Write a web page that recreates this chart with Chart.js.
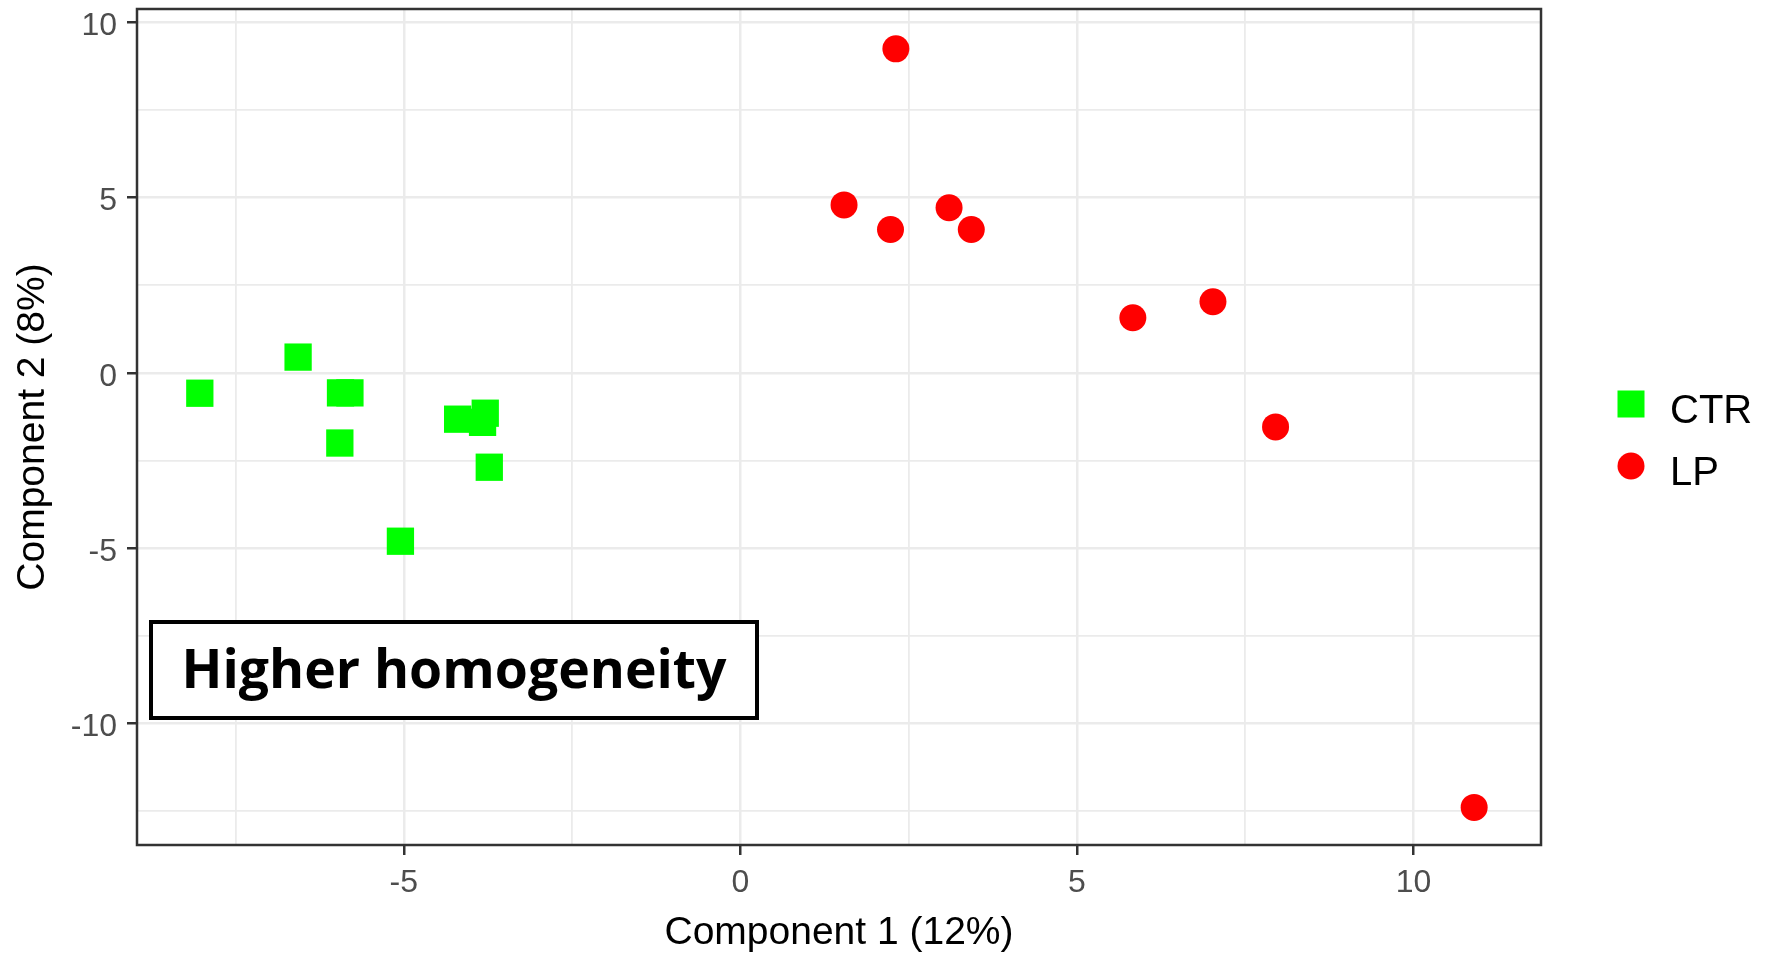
<!DOCTYPE html>
<html>
<head>
<meta charset="utf-8">
<script src="https://cdn.jsdelivr.net/npm/chart.js@4.4.1/dist/chart.umd.min.js"></script>
<style>
  html, body { margin: 0; padding: 0; background: #ffffff; }
  #wrap { width: 1769px; height: 953px; position: relative; }
</style>
</head>
<body>
<div id="wrap"><canvas id="c"></canvas></div>
<script>
// ---- data ----
const seriesNames = ['CTR', 'LP'];
const seriesColors = ['#00FF00', '#FF0000'];
const ctrX = [-8.03, -6.57, -5.94, -5.80, -5.95, -4.20, -3.79, -3.83, -3.73, -5.05];
const ctrY = [-0.58,  0.45, -0.57, -0.57, -2.00, -1.32, -1.15, -1.41, -2.69, -4.80];
const lpX  = [2.31, 1.54, 2.23, 3.10, 3.43, 5.83, 7.02, 7.95, 10.90];
const lpY  = [9.24, 4.79, 4.09, 4.71, 4.09, 1.57, 2.03, -1.54, -12.39];

const xMajorTicks = [-5, 0, 5, 10];
const xTickLabels = ['-5', '0', '5', '10'];
const xMinorTicks = [-7.5, -2.5, 2.5, 7.5];
const yMajorTicks = [-10, -5, 0, 5, 10];
const yTickLabels = ['-10', '-5', '0', '5', '10'];
const yMinorTicks = [-12.5, -7.5, -2.5, 2.5, 7.5];
const xRange = [-8.963, 11.893];
const yRange = [-13.462, 10.376];

const xTitle = 'Component 1 (12%)';
const yTitle = 'Component 2 (8%)';
const annotationText = 'Higher homogeneity';

// ---- build chart ----
const toPoints = (xs, ys) => xs.map((x, i) => ({ x: x, y: ys[i] }));

function setTicks(major, minor) {
  return function (scale) {
    scale.ticks = major.concat(minor).sort((a, b) => a - b).map(v => ({ value: v }));
  };
}
function labelFor(major, labels) {
  return function (value) {
    const i = major.indexOf(value);
    return i >= 0 ? labels[i] : '';
  };
}
// y labels sit slightly below their tick in the reference: an empty first line
// with a small line height nudges the label down a few pixels
function labelForShifted(major, labels) {
  return function (value) {
    const i = major.indexOf(value);
    return i >= 0 ? ['', labels[i]] : '';
  };
}
function gridWidth(major) {
  return ctx => (ctx.tick && major.indexOf(ctx.tick.value) >= 0) ? 2.5 : 1.8;
}
function tickCol(major) {
  return ctx => (ctx.tick && major.indexOf(ctx.tick.value) >= 0) ? '#333333' : 'rgba(0,0,0,0)';
}

const FONT = "'Liberation Sans', Arial, sans-serif";

const decor = {
  id: 'decor',
  afterDatasetsDraw(chart) {
    const { ctx, chartArea: a } = chart;
    ctx.save();
    // panel border
    ctx.strokeStyle = '#333333';
    ctx.lineWidth = 2.5;
    ctx.strokeRect(a.left, a.top, a.right - a.left, a.bottom - a.top);

    // annotation box
    const bx = a.left + 14, by = 622, bw = 606, bh = 96;
    ctx.fillStyle = '#ffffff';
    ctx.fillRect(bx, by, bw, bh);
    ctx.strokeStyle = '#000000';
    ctx.lineWidth = 4;
    ctx.strokeRect(bx, by, bw, bh);
    ctx.fillStyle = '#000000';
    ctx.font = "bold 53.5px 'Open Sans', sans-serif";
    ctx.textAlign = 'center';
    ctx.textBaseline = 'alphabetic';
    ctx.fillText(annotationText, bx + bw / 2, 688);
    ctx.restore();
  },
  afterDraw(chart) {
    const { ctx } = chart;
    ctx.save();
    const kx = 1631;
    const rows = [404, 466];
    chart.data.datasets.forEach((ds, i) => {
      const cy = rows[i];
      ctx.fillStyle = ds.backgroundColor;
      if (ds.pointStyle === 'rect') {
        ctx.fillRect(kx - 13.5, cy - 13.5, 27, 27);
      } else {
        ctx.beginPath();
        ctx.arc(kx, cy, 13.5, 0, Math.PI * 2);
        ctx.fill();
      }
      ctx.fillStyle = '#000000';
      ctx.font = '40px ' + FONT;
      ctx.textAlign = 'left';
      ctx.textBaseline = 'alphabetic';
      ctx.fillText(ds.label, 1670, cy + 19);
    });
    ctx.restore();
  }
};

new Chart(document.getElementById('c'), {
  type: 'scatter',
  data: {
    datasets: [
      {
        label: seriesNames[0],
        data: toPoints(ctrX, ctrY),
        backgroundColor: seriesColors[0],
        borderWidth: 0,
        pointStyle: 'rect',
        pointRadius: 19.3,
        pointHoverRadius: 19.3
      },
      {
        label: seriesNames[1],
        data: toPoints(lpX, lpY),
        backgroundColor: seriesColors[1],
        borderWidth: 0,
        pointStyle: 'circle',
        pointRadius: 13.5,
        pointHoverRadius: 13.5
      }
    ]
  },
  options: {
    responsive: true,
    maintainAspectRatio: false,
    animation: false,
    events: [],
    layout: { autoPadding: false, padding: { left: 0, top: 9, right: 228, bottom: 0 } },
    plugins: {
      legend: { display: false },
      tooltip: { enabled: false }
    },
    scales: {
      x: {
        type: 'linear',
        position: 'bottom',
        min: xRange[0],
        max: xRange[1],
        bounds: 'data',
        afterBuildTicks: setTicks(xMajorTicks, xMinorTicks),
        afterFit(scale) {
          scale.height = 108;
          scale.paddingLeft = 0;
          scale.paddingRight = 0;
        },
        border: { display: false },
        grid: {
          color: '#EBEBEB',
          lineWidth: gridWidth(xMajorTicks),
          tickColor: tickCol(xMajorTicks),
          tickWidth: 2.5,
          tickLength: 10,
          drawTicks: true
        },
        ticks: {
          autoSkip: false,
          maxRotation: 0,
          padding: 9,
          color: '#4D4D4D',
          font: { family: FONT, size: 32 },
          callback: labelFor(xMajorTicks, xTickLabels)
        },
        title: {
          display: true,
          text: xTitle,
          color: '#000000',
          font: { family: FONT, size: 39, lineHeight: 1 },
          padding: { top: 0, bottom: 0.5 }
        }
      },
      y: {
        type: 'linear',
        position: 'left',
        min: yRange[0],
        max: yRange[1],
        bounds: 'data',
        afterBuildTicks: setTicks(yMajorTicks, yMinorTicks),
        afterFit(scale) {
          scale.width = 137;
          scale.paddingTop = 0;
          scale.paddingBottom = 0;
        },
        border: { display: false },
        grid: {
          color: '#EBEBEB',
          lineWidth: gridWidth(yMajorTicks),
          tickColor: tickCol(yMajorTicks),
          tickWidth: 2.5,
          tickLength: 10,
          drawTicks: true
        },
        ticks: {
          autoSkip: false,
          padding: 10,
          color: '#4D4D4D',
          font: { family: FONT, size: 32, lineHeight: '8px' },
          callback: labelForShifted(yMajorTicks, yTickLabels)
        },
        title: {
          display: true,
          text: yTitle,
          color: '#000000',
          font: { family: FONT, size: 39, lineHeight: 1 },
          padding: { top: 13.5, bottom: 0 }
        }
      }
    }
  },
  plugins: [decor]
});
</script>
</body>
</html>
